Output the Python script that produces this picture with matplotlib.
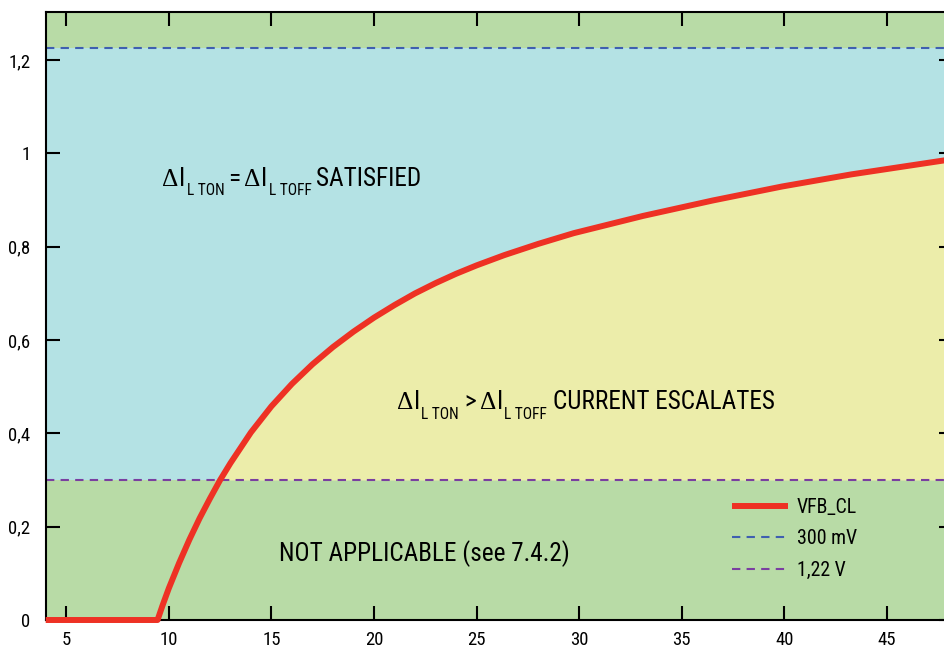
import matplotlib
matplotlib.use("Agg")
import matplotlib.pyplot as plt
from matplotlib import font_manager
from matplotlib.transforms import offset_copy
import numpy as np

# ---- data ----
vfb_x = [4.0, 9.45, 9.7, 10.0, 10.5, 11.0, 11.5, 12.0, 12.5, 13.0, 14.0, 15.0, 16.0, 17.0,
         18.0, 19.0, 20.0, 21.0, 22.0, 23.0, 24.0, 25.0, 26.35, 28.0, 29.73, 33.11, 36.5,
         39.88, 43.26, 47.79, 48.2]
vfb_y = [0.0, 0.0, 0.032, 0.068, 0.122, 0.172, 0.218, 0.260, 0.300, 0.336, 0.402, 0.458,
         0.506, 0.548, 0.585, 0.618, 0.648, 0.675, 0.700, 0.722, 0.742, 0.760, 0.782,
         0.806, 0.829, 0.866, 0.899, 0.929, 0.955, 0.985, 0.988]
level_300mV = 0.30
level_122V = 1.225
x_ticks = [5, 10, 15, 20, 25, 30, 35, 40, 45]
x_tick_labels = ["5", "10", "15", "20", "25", "30", "35", "40", "45"]
y_ticks = [0, 0.2, 0.4, 0.6, 0.8, 1.0, 1.2]
y_tick_labels = ["0", "0,2", "0,4", "0,6", "0,8", "1", "1,2"]
legend_labels = ["VFB_CL", "300 mV", "1,22 V"]

# ---- font ----
available = {f.name for f in font_manager.fontManager.ttflist}
family = "DejaVu Sans"
for cand in ["Liberation Sans Narrow", "Roboto Condensed", "Liberation Sans", "Roboto"]:
    if cand in available:
        family = cand
        break
plt.rcParams["font.family"] = [family, "DejaVu Sans"]
DELTA_FAMILY = ["Liberation Serif", "DejaVu Serif"]

GREEN = "#b8dba6"
BLUE_BG = "#b4e2e4"
YELLOW = "#ecedaa"
RED = "#ee3124"
DASH_BLUE = "#3f5fb0"
DASH_PURPLE = "#7a3fa0"

fig = plt.figure(figsize=(9.44, 6.5), dpi=100)
W, H = 944, 650
left_px, right_px, top_px, bot_px = 45.7, 952.7, 12, 620
ax = fig.add_axes([left_px / W, (H - bot_px) / H, (right_px - left_px) / W, (bot_px - top_px) / H])
ax.set_xlim(4, 48.2)
ax.set_ylim(0, 1.303)
ax.set_facecolor(GREEN)

xa = np.array(vfb_x)
ya = np.array(vfb_y)
ax.axhspan(level_300mV, level_122V, color=BLUE_BG, lw=0, zorder=0.5)
ax.fill_between(xa, level_300mV, np.minimum(ya, level_122V), where=ya >= level_300mV,
                interpolate=True, color=YELLOW, lw=0, zorder=0.6)

l1, = ax.plot(xa, ya, color=RED, lw=4.3, zorder=5, clip_on=False,
              solid_capstyle="butt", solid_joinstyle="round")
l2 = ax.axhline(level_122V, color=DASH_BLUE, lw=1.5, dashes=(4, 3), zorder=3)
l3 = ax.axhline(level_300mV, color=DASH_PURPLE, lw=1.5, dashes=(4, 3), zorder=3)

ax.set_xticks(x_ticks)
ax.set_xticklabels(x_tick_labels)
ax.set_yticks(y_ticks)
ax.set_yticklabels(y_tick_labels)
ax.tick_params(direction="in", length=10, width=1.5, top=True, right=True,
               labelsize=13.5, colors="black")
ax.tick_params(axis="x", pad=8)
ax.tick_params(axis="y", pad=11)
for s in ax.spines.values():
    s.set_linewidth(1.5)
    s.set_zorder(4)

renderer = fig.canvas.get_renderer()
MAIN = 18.2
SUB = 11.2
DROP = -6.7  # points


def rich(x, y, pieces):
    off = 0.0
    for s, size, dy, gap, fam in pieces:
        tr = offset_copy(ax.transData, fig=fig, x=off, y=dy, units="points")
        kw = {}
        if fam is not None:
            kw["family"] = fam
        t = ax.text(x, y, s, fontsize=size, transform=tr, ha="left", va="baseline",
                    zorder=6, **kw)
        bb = t.get_window_extent(renderer)
        off += bb.width * 72.0 / fig.dpi + gap


def delta_i(sub, gap_after):
    return [("Δ", MAIN, 0, 0.3, DELTA_FAMILY), ("I", MAIN, 0, 1.0, None),
            (sub, SUB, DROP, gap_after, None)]


rich(9.68, 0.9306, delta_i("L TON", 2.6) + [("=", MAIN, 0, 3.0, None)]
     + delta_i("L TOFF", 3.0) + [("SATISFIED", MAIN, 0, 0, None)])
rich(21.12, 0.4514, delta_i("L TON", 3.6) + [(">", MAIN, 0, 3.0, None)]
     + delta_i("L TOFF", 4.2) + [("CURRENT ESCALATES", MAIN, 0, 0, None)])
ax.text(15.35, 0.127, "NOT APPLICABLE (see 7.4.2)", fontsize=MAIN, ha="left",
        va="baseline", zorder=6)

leg = ax.legend([l1, l2, l3], legend_labels, loc="upper left",
                bbox_to_anchor=((732 - left_px) / (right_px - left_px), (bot_px - 498) / (bot_px - top_px)),
                frameon=False, fontsize=14.3, handlelength=2.82, handletextpad=0.45,
                labelspacing=0.62, borderpad=0, borderaxespad=0)

fig.savefig("out.png", dpi=100)
